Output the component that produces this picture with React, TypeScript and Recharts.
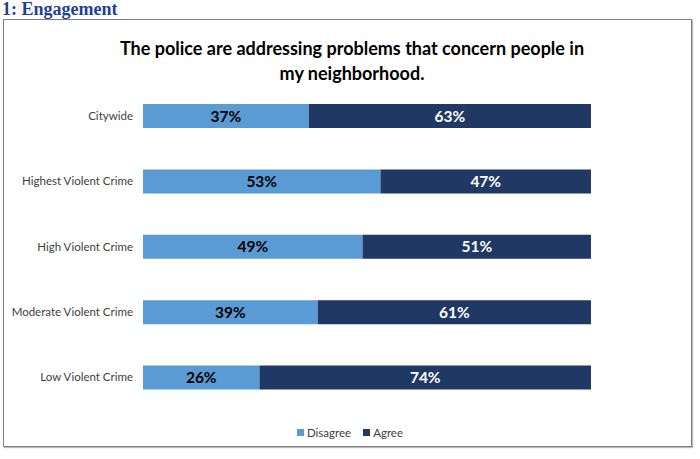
import React from 'react';
import { BarChart, Bar, XAxis, YAxis, Legend, LabelList } from 'recharts';

const categories = [
  'Citywide',
  'Highest Violent Crime',
  'High Violent Crime',
  'Moderate Violent Crime',
  'Low Violent Crime',
];
const disagree = [37, 53, 49, 39, 26];
const agree = [63, 47, 51, 61, 74];
const seriesNames = ['Disagree', 'Agree'];

const data = categories.map((name, i) => ({ name, Disagree: disagree[i], Agree: agree[i] }));

const FONT = 'Lato, "Open Sans", sans-serif';
const LIGHT = '#5b9bd5';
const DARK = '#203864';
const seriesColors = [LIGHT, DARK];

const pct = (v: any) => `${v}%`;

const CategoryTick = (props: any) => {
  const { x, y, payload } = props;
  return (
    <text x={x} y={y} dy={4} textAnchor="end" fontSize={11.5} fill="#404040" fontFamily={FONT}>
      {payload.value}
    </text>
  );
};

const LegendContent = () => (
  <div style={{ display: 'flex', justifyContent: 'center', gap: 12, fontFamily: FONT, fontSize: 11.5, color: '#404040' }}>
    {seriesNames.map((n, i) => (
      <span key={n} style={{ display: 'flex', alignItems: 'center', gap: 3 }}>
        <span style={{ width: 7, height: 7, background: seriesColors[i], display: 'inline-block' }} />
        {n}
      </span>
    ))}
  </div>
);

export default function App() {
  return (
    <div style={{ position: 'absolute', left: 0, top: 0, width: 700, height: 459, background: '#fff' }}>
      <div
        style={{
          position: 'absolute',
          left: 2,
          top: 0,
          fontFamily: '"Liberation Serif", "Times New Roman", serif',
          fontWeight: 'bold',
          fontSize: 18,
          lineHeight: '19px',
          color: '#1f3f99',
        }}
      >
        1: Engagement
      </div>
      <div
        style={{
          position: 'absolute',
          left: 3,
          top: 19,
          width: 687,
          height: 426,
          border: '1.5px solid #7f7f7f',
          boxShadow: '1px 1px 1px #bbb',
        }}
      />
      <div
        style={{
          position: 'absolute',
          left: 0,
          top: 36,
          width: 704,
          textAlign: 'center',
          fontFamily: FONT,
          fontWeight: 'bold',
          fontSize: 18,
          lineHeight: '25px',
          color: '#000',
        }}
      >
        The police are addressing problems that concern people in
        <br />
        my neighborhood.
      </div>
      <div style={{ position: 'absolute', left: 0, top: 0 }}>
        <BarChart
          width={700}
          height={459}
          data={data}
          layout="vertical"
          margin={{ top: 83, right: 109, bottom: 36, left: 0 }}
          barSize={24}
        >
          <XAxis type="number" domain={[0, 100]} hide />
          <YAxis
            type="category"
            dataKey="name"
            width={143}
            axisLine={false}
            tickLine={false}
            tickMargin={4}
            tick={<CategoryTick />}
          />
          <Legend
            verticalAlign="bottom"
            align="center"
            content={<LegendContent />}
            wrapperStyle={{ left: 0, width: 700, bottom: 20 }}
          />
          <Bar dataKey="Disagree" stackId="a" fill={LIGHT} isAnimationActive={false}>
            <LabelList
              dataKey="Disagree"
              position="center"
              formatter={pct}
              style={{ fill: '#000', fontWeight: 'bold', fontSize: 15.5, fontFamily: FONT }}
            />
          </Bar>
          <Bar dataKey="Agree" stackId="a" fill={DARK} isAnimationActive={false}>
            <LabelList
              dataKey="Agree"
              position="center"
              formatter={pct}
              style={{ fill: '#fff', fontWeight: 'bold', fontSize: 15.5, fontFamily: FONT }}
            />
          </Bar>
        </BarChart>
      </div>
    </div>
  );
}
